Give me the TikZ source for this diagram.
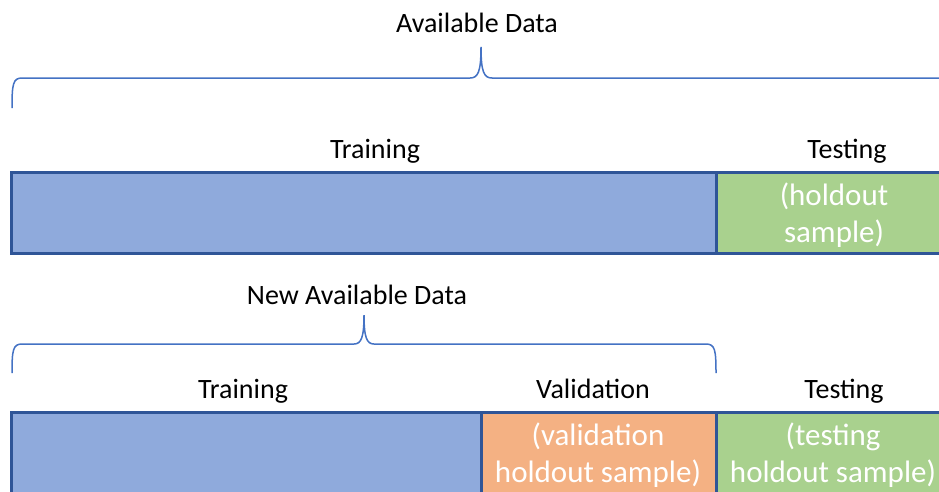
\documentclass[tikz,border=0pt]{standalone}
\usepackage{fontspec}
\setmainfont{Carlito}
\definecolor{barblue}{HTML}{8FAADC}
\definecolor{bargreen}{HTML}{A9D18E}
\definecolor{barorange}{HTML}{F4B183}
\definecolor{edgeblue}{HTML}{2F5597}
\definecolor{braceblue}{HTML}{4472C4}
\begin{document}
\begin{tikzpicture}[x=1pt,y=-1pt,
  seg/.style={draw=edgeblue, line width=3pt, minimum height=81pt, anchor=north west, inner sep=0pt, outer sep=0pt},
  lbl/.style={font=\fontsize{28}{33}\selectfont, anchor=base, inner sep=0pt},
  wlbl/.style={font=\fontsize{31}{37}\selectfont, text=white, align=center, inner sep=0pt},
  bracestyle/.style={draw=braceblue, line width=1.5pt}]
\useasboundingbox (0,0) rectangle (939,491);
\clip (0,0) rectangle (939,491);
\fill[white] (0,0) rectangle (939,491);
% top bar
\node[seg, fill=barblue, minimum width=705pt] (train1) at (11,172) {};
\node[seg, fill=bargreen, minimum width=250pt] (test1) at (716,172) {};
% bottom bar
\node[seg, fill=barblue, minimum width=470pt, minimum height=100pt] (train2) at (11,412) {};
\node[seg, fill=barorange, minimum width=235pt, minimum height=100pt] (val2) at (481,412) {};
\node[seg, fill=bargreen, minimum width=250pt, minimum height=100pt] (test2) at (716,412) {};
% braces
\draw[bracestyle] (12,108) .. controls (12,84) and (13,78) .. (22,78) -- (470,78)
  .. controls (478,78) and (481,72) .. (481,47)
  .. controls (481,72) and (484,78) .. (492,78) -- (960,78);
\draw[bracestyle] (12,373) .. controls (12,350) and (13,344) .. (22,344) -- (354,344)
  .. controls (361,344) and (364,338) .. (364,315)
  .. controls (364,338) and (367,344) .. (374,344) -- (706,344)
  .. controls (715,344) and (716,350) .. (716,373);
% labels
\node[lbl] (avail) at (477,32) {Available Data};
\node[lbl] (trainlbl1) at (375,158) {Training};
\node[lbl] (testlbl1) at (847,158) {Testing};
\node[lbl] (newavail) at (357,304) {New Available Data};
\node[lbl] (trainlbl2) at (243,398) {Training};
\node[lbl] (vallbl2) at (593,398) {Validation};
\node[lbl] (testlbl2) at (844,398) {Testing};
% white texts
\node[wlbl] (hold1) at (834,215) {(holdout\\sample)};
\node[wlbl] (hold2) at (598,455) {(validation\\holdout sample)};
\node[wlbl] (hold3) at (833,455) {(testing\\holdout sample)};
\end{tikzpicture}
\end{document}
